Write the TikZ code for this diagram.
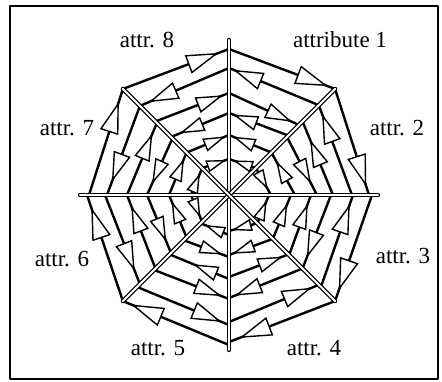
\documentclass[tikz,border=0pt]{standalone}
\usepackage{fontspec}
\setmainfont{Liberation Serif}
\usetikzlibrary{arrows.meta,decorations.markings}

\tikzset{
  spoke/.style={draw=black,line width=1.2pt,double=white,double distance=2pt},
  web/.style={line width=2.4pt,postaction={decorate,decoration={markings,
      mark=at position #1 with {\arrow{Triangle[length=\headlen pt,width=\headwid pt,fill=white,line width=1.4pt]}}}}},
  attrlabel/.style={font=\fontsize{23}{26}\selectfont,inner sep=0pt}
}

\begin{document}
\begin{tikzpicture}[x=1pt,y=1pt,line cap=round,line join=round]
  \useasboundingbox (-229,195) rectangle (213,-187);
  \draw[line width=1.8pt] (-219,189) rectangle (209,-184);

  % chords of the web: rA/rB/towards B?/arrow position, one list per sector
  \foreach \k/\chords in {
      0/{146/150/1/.93, 127/127/0/.95, 102/99/1/.9, 82/84/0/.93, 60/60/0/.9, 36/38/0/.85},
      1/{150/140/1/.92, 127/123/0/.9, 104/104/0/.75, 82/88/1/.8, 60/66/0/.8, 38/42/1/.8},
      2/{143/150/1/.9, 124/130/0/.9, 102/104/1/.85, 82/85/0/.85, 62/62/0/.8, 40/40/0/.8},
      3/{150/147/1/.9, 127/127/0/.92, 104/103/1/.92, 84/82/0/.9, 62/60/1/.92, 40/36/1/.9},
      4/{150/150/1/.92, 130/130/0/.92, 104/106/0/.9, 84/84/1/.6, 62/64/0/.85, 40/40/1/.85},
      5/{150/142/1/.88, 126/124/0/.85, 104/102/1/.85, 82/82/0/.8, 60/60/1/.85, 38/38/0/.85},
      6/{140/150/1/.88, 122/126/0/.85, 102/102/1/.85, 82/80/0/.8, 60/60/1/.85, 38/38/1/.8},
      7/{150/146/1/.9, 126/127/0/.9, 104/102/1/.92, 82/82/0/.85, 60/60/1/.92, 38/36/1/.9}} {
    \pgfmathsetmacro\angA{90-45*\k}
    \pgfmathsetmacro\angB{45-45*\k}
    \foreach \ra/\rb/\tob/\p in \chords {
      \pgfmathsetmacro\headlen{16+0.055*(\ra+\rb)}
      \pgfmathsetmacro\headwid{0.6*\headlen}
      \ifnum\tob=1
        \draw[web=\p] (\angA:\ra) -- (\angB:\rb);
      \else
        \draw[web=\p] (\angB:\rb) -- (\angA:\ra);
      \fi
    }
  }

  % the eight axes
  \draw[spoke] (0,155) -- (0,-155);
  \draw[spoke] (-149,0) -- (149,0);
  \draw[spoke] (45:150) -- (225:150);
  \draw[spoke] (135:150) -- (315:150);

  \node[attrlabel] (l1) at (111,155) {attribute 1};
  \node[attrlabel] (l2) at (168,67) {attr. 2};
  \node[attrlabel] (l3) at (174,-61) {attr. 3};
  \node[attrlabel] (l4) at (85,-153) {attr. 4};
  \node[attrlabel] (l5) at (-71,-153) {attr. 5};
  \node[attrlabel] (l6) at (-167,-64) {attr. 6};
  \node[attrlabel] (l7) at (-162,67) {attr. 7};
  \node[attrlabel] (l8) at (-82,155) {attr. 8};
\end{tikzpicture}
\end{document}
